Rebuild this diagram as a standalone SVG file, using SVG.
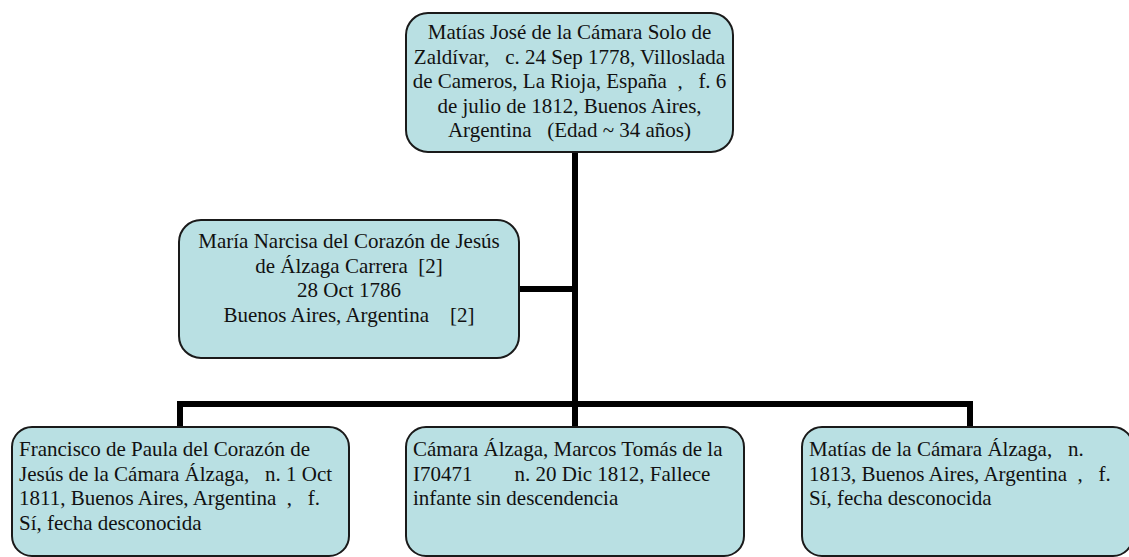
<svg xmlns="http://www.w3.org/2000/svg" width="1129" height="557" viewBox="0 0 1129 557">
<style>
.box{fill:#b9e0e3;stroke:#1a1a1a;stroke-width:2}
.t{font-family:"Liberation Serif","Times New Roman",serif;font-size:21px;fill:#111;white-space:pre}
.c{text-anchor:middle}
.con{stroke:#000;stroke-width:6;fill:none}
</style>
<rect width="1129" height="557" fill="#fff"/>
<g id="connectors">
<line class="con" x1="575" y1="151" x2="575" y2="404"/>
<line class="con" x1="519" y1="289" x2="575" y2="289"/>
<polyline class="con" points="180,427 180,404 970,404 970,427"/>
<line class="con" x1="575" y1="404" x2="575" y2="427"/>
</g>
<g id="n_matias">
<rect class="box" x="406" y="13" width="327" height="139" rx="22"/>
<text class="t c" xml:space="preserve"><tspan x="569.5" y="39">Matías José de la Cámara Solo de</tspan><tspan x="569.5" y="63.5">Zaldívar,   c. 24 Sep 1778, Villoslada</tspan><tspan x="569.5" y="88">de Cameros, La Rioja, España  ,   f. 6</tspan><tspan x="569.5" y="112.5">de julio de 1812, Buenos Aires,</tspan><tspan x="569.5" y="137">Argentina   (Edad ~ 34 años)</tspan></text>
</g>
<g id="n_maria">
<rect class="box" x="179" y="220" width="340" height="138" rx="22"/>
<text class="t c" xml:space="preserve"><tspan x="349" y="248">María Narcisa del Corazón de Jesús</tspan><tspan x="349" y="272.5">de Álzaga Carrera  [2]</tspan><tspan x="349" y="297">28 Oct 1786</tspan><tspan x="349" y="321.5">Buenos Aires, Argentina    [2]</tspan></text>
</g>
<g id="n_francisco">
<rect class="box" x="12" y="427" width="337" height="129" rx="20"/>
<text class="t" xml:space="preserve"><tspan x="19" y="456">Francisco de Paula del Corazón de</tspan><tspan x="19" y="480.5">Jesús de la Cámara Álzaga,   n. 1 Oct</tspan><tspan x="19" y="505">1811, Buenos Aires, Argentina  ,   f.</tspan><tspan x="19" y="529.5">Sí, fecha desconocida</tspan></text>
</g>
<g id="n_marcos">
<rect class="box" x="406" y="427" width="338" height="129" rx="20"/>
<text class="t" xml:space="preserve"><tspan x="413" y="456">Cámara Álzaga, Marcos Tomás de la</tspan><tspan x="413" y="480.5">I70471        n. 20 Dic 1812, Fallece</tspan><tspan x="413" y="505">infante sin descendencia</tspan></text>
</g>
<g id="n_matias2">
<rect class="box" x="802" y="427" width="331" height="129" rx="20"/>
<text class="t" xml:space="preserve"><tspan x="809" y="456">Matías de la Cámara Álzaga,   n.</tspan><tspan x="809" y="480.5">1813, Buenos Aires, Argentina  ,   f.</tspan><tspan x="809" y="505">Sí, fecha desconocida</tspan></text>
</g>
</svg>
